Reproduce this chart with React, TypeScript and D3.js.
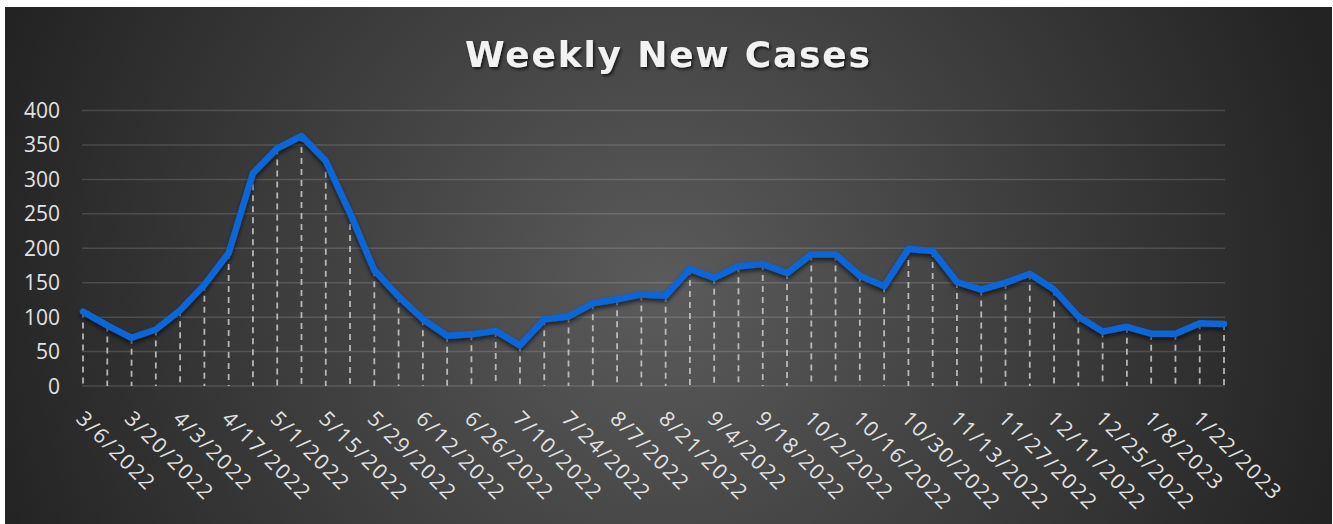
import React from "react";
import * as d3 from "d3";

const dates: string[] = [
  "3/6/2022", "3/13/2022", "3/20/2022", "3/27/2022", "4/3/2022", "4/10/2022", "4/17/2022", "4/24/2022",
  "5/1/2022", "5/8/2022", "5/15/2022", "5/22/2022", "5/29/2022", "6/5/2022", "6/12/2022", "6/19/2022",
  "6/26/2022", "7/3/2022", "7/10/2022", "7/17/2022", "7/24/2022", "7/31/2022", "8/7/2022", "8/14/2022",
  "8/21/2022", "8/28/2022", "9/4/2022", "9/11/2022", "9/18/2022", "9/25/2022", "10/2/2022", "10/9/2022",
  "10/16/2022", "10/23/2022", "10/30/2022", "11/6/2022", "11/13/2022", "11/20/2022", "11/27/2022", "12/4/2022",
  "12/11/2022", "12/18/2022", "12/25/2022", "1/1/2023", "1/8/2023", "1/15/2023", "1/22/2023", "1/29/2023",
];

const cases: number[] = [
  108, 88, 70, 82, 110, 147, 193, 309,
  345, 363, 327, 251, 168, 130, 97, 73,
  75, 80, 59, 97, 101, 120, 126, 133,
  131, 170, 157, 174, 177, 164, 191, 191,
  160, 145, 199, 196, 151, 140, 150, 163,
  140, 101, 79, 86, 76, 76, 91, 90,
];

const yTicks: number[] = [0, 50, 100, 150, 200, 250, 300, 350, 400];

const W = 1333;
const H = 524;

export default function App() {
  const x = d3.scalePoint<string>().domain(dates).range([83, 1224]);
  const y = d3.scaleLinear().domain([0, 400]).range([386, 110.5]);
  const line = d3
    .line<number>()
    .x((_, i) => x(dates[i]) as number)
    .y((d) => y(d));

  const labelFont = "'Open Sans', 'DejaVu Sans', sans-serif";

  return (
    <svg
      width={W}
      height={H}
      style={{ position: "absolute", left: 0, top: 0, display: "block" }}
    >
      <defs>
        <radialGradient id="bg" gradientUnits="userSpaceOnUse" cx={660} cy={290} r={700}>
          <stop offset="0" stopColor="#5b5b5b" />
          <stop offset="1" stopColor="#232323" />
        </radialGradient>
        <filter id="lineShadow" x="-5%" y="-20%" width="110%" height="140%">
          <feDropShadow dx="0" dy="3" stdDeviation="2" floodColor="#000" floodOpacity="0.6" />
        </filter>
        <filter id="titleShadow" x="-5%" y="-30%" width="110%" height="160%">
          <feDropShadow dx="1.5" dy="2" stdDeviation="1.5" floodColor="#000" floodOpacity="0.7" />
        </filter>
      </defs>
      <rect x={0} y={0} width={W} height={H} fill="#ffffff" />
      <rect x={5} y={7} width={1327} height={H - 7} fill="url(#bg)" />

      <text
        x={667.5}
        y={67}
        textAnchor="middle"
        fill="#f2f2f2"
        fontFamily="'DejaVu Sans', sans-serif"
        fontWeight="bold"
        fontSize={36}
        textLength={405}
        lengthAdjust="spacing"
        filter="url(#titleShadow)"
      >
        Weekly New Cases
      </text>

      {yTicks.map((t) => (
        <g key={t}>
          <line
            x1={82}
            x2={1225}
            y1={y(t)}
            y2={y(t)}
            stroke="#ffffff"
            strokeOpacity={0.14}
            strokeWidth={1.5}
          />
          <text
            x={60}
            y={y(t)}
            dy="0.36em"
            textAnchor="end"
            fill="#e2e2e2"
            fontFamily={labelFont}
            fontSize={21}
          >
            {t}
          </text>
        </g>
      ))}

      {cases.map((v, i) => (
        <line
          key={"d" + i}
          x1={x(dates[i]) as number}
          x2={x(dates[i]) as number}
          y1={y(v)}
          y2={y(0)}
          stroke="#cccccc"
          strokeOpacity={0.85}
          strokeWidth={1.8}
          strokeDasharray="6,5"
        />
      ))}

      <path
        d={line(cases) || ""}
        fill="none"
        stroke="#0866d8"
        strokeWidth={6.5}
        strokeLinejoin="round"
        strokeLinecap="round"
        filter="url(#lineShadow)"
      />

      {dates.map((dt, i) =>
        i % 2 === 0 ? (
          <text
            key={"x" + i}
            transform={`translate(${(x(dt) as number) - 8},${420}) rotate(45)`}
            textAnchor="start"
            fill="#e2e2e2"
            fontFamily={labelFont}
            fontSize={21}
            letterSpacing={1.8}
          >
            {dt}
          </text>
        ) : null
      )}
    </svg>
  );
}
